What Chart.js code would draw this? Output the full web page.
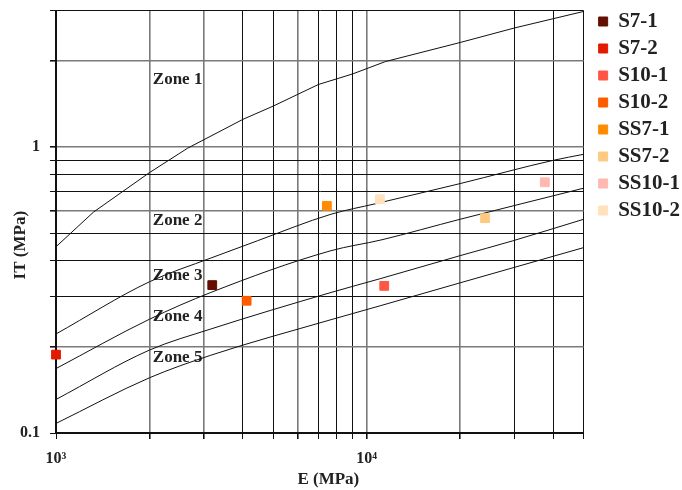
<!DOCTYPE html>
<html>
<head>
<meta charset="utf-8">
<script src="https://cdn.jsdelivr.net/npm/chart.js@4.4.1/dist/chart.umd.min.js"></script>
<style>
  body { margin: 0; background: #fff; }
  #wrap { width: 682px; height: 490px; }
</style>
</head>
<body>
<div id="wrap"><canvas id="myChart"></canvas></div>
<script>
// tick positions
const xTicks = [1000, 2000, 3000, 4000, 5000, 6000, 7000, 8000, 9000, 10000, 20000, 30000, 40000, 50000];
const yTicks = [0.1, 0.2, 0.3, 0.4, 0.5, 0.6, 0.7, 0.8, 0.9, 1, 2, 3];

// measured samples
const sampleNames = ['S7-1', 'S7-2', 'S10-1', 'S10-2', 'SS7-1', 'SS7-2', 'SS10-1', 'SS10-2'];
const sampleE = [3185, 1000, 11400, 4110, 7450, 24070, 37500, 11040];
const sampleIT = [0.329, 0.188, 0.327, 0.290, 0.623, 0.564, 0.753, 0.657];
const sampleColors = ['#650f00', '#e21a00', '#ff5545', '#ff5c00', '#ff8c00', '#ffc981', '#ffb8b0', '#ffe2bb'];

// zone boundaries
const curve1E = [1000, 1320, 2000, 2650, 4000, 5000, 7000, 9000, 11500, 20000, 30000, 50000];
const curve1IT = [0.448, 0.592, 0.814, 0.99, 1.25, 1.39, 1.655, 1.80, 1.99, 2.32, 2.61, 2.98];
const curve2E = [1000, 2000, 3150, 4450, 7680, 10720, 20000, 40000, 50000];
const curve2IT = [0.222, 0.338, 0.409, 0.47, 0.582, 0.634, 0.745, 0.899, 0.943];
const curve3E = [1000, 2000, 3150, 7680, 11120, 20000, 50000];
const curve3IT = [0.168, 0.250, 0.310, 0.434, 0.473, 0.559, 0.718];
const curve4E = [1000, 2000, 3150, 7680, 11120, 20000, 29580, 50000];
const curve4IT = [0.131, 0.195, 0.231, 0.310, 0.347, 0.417, 0.47, 0.559];
const curve5E = [1000, 2000, 3150, 7680, 11120, 20000, 50000];
const curve5IT = [0.108, 0.156, 0.187, 0.249, 0.279, 0.335, 0.445];

// zone labels
const zoneNames = ['Zone 1', 'Zone 2', 'Zone 3', 'Zone 4', 'Zone 5'];
const zoneE = [2050, 2050, 2050, 2050, 2050];
const zoneIT = [1.727, 0.552, 0.355, 0.255, 0.184];

const serif = '"Liberation Serif", "DejaVu Serif", serif';

function toPoints(xs, ys) {
    return xs.map((v, i) => ({ x: v, y: ys[i] }));
}

let datasets = [];
sampleNames.forEach((name, i) => {
    datasets.push({
        label: name,
        data: [{ x: sampleE[i], y: sampleIT[i] }],
        backgroundColor: sampleColors[i],
        borderColor: sampleColors[i],
        pointStyle: 'rect',
        pointRadius: 6.2,
        pointBorderWidth: 1,
        clip: false
    });
});
[[curve1E, curve1IT], [curve2E, curve2IT], [curve3E, curve3IT], [curve4E, curve4IT], [curve5E, curve5IT]].forEach((c, i) => {
    datasets.push({
        label: 'curve' + (i + 1),
        data: toPoints(c[0], c[1]),
        showLine: true,
        borderColor: '#111',
        borderWidth: 1,
        pointRadius: 0,
        // top boundary is a broken line, the others bend smoothly
        cubicInterpolationMode: i === 0 ? 'default' : 'monotone',
        tension: 0
    });
});

const zoneText = {
    id: 'zoneText',
    beforeDatasetsDraw(chart) {
        const { ctx, scales: { x, y } } = chart;
        ctx.save();
        ctx.font = 'bold 17px ' + serif;
        ctx.fillStyle = '#222';
        ctx.textBaseline = 'middle';
        ctx.textAlign = 'left';
        zoneNames.forEach((n, i) => {
            ctx.fillText(n, x.getPixelForValue(zoneE[i]), y.getPixelForValue(zoneIT[i]));
        });
        ctx.restore();
    }
};

const grayX = [2000, 3000, 6000, 10000, 20000];
const grayY = [0.2, 0.6, 1, 2];
const near = (a, b) => Math.abs(a - b) < 1e-9 * Math.max(1, b);
const yLabel = (v) => near(v, 1) ? '1' : (near(v, 0.1) ? '0.1' : '');

let myChart = new Chart(document.getElementById('myChart'), {
    type: 'scatter',
    data: { datasets: datasets },
    plugins: [zoneText],
    options: {
        responsive: true,
        maintainAspectRatio: false,
        animation: false,
        layout: { padding: { left: 0, right: -8, top: 5, bottom: 0 } },
        plugins: {
            tooltip: { enabled: false },
            legend: {
                position: 'right',
                align: 'start',
                labels: {
                    boxWidth: 9,
                    boxHeight: 9,
                    padding: 6,
                    color: '#222',
                    font: { family: serif, size: 21, weight: 'bold' },
                    filter: (item) => sampleNames.includes(item.text)
                }
            }
        },
        scales: {
            x: {
                type: 'logarithmic',
                position: 'bottom',
                min: 1000,
                max: 50000,
                afterBuildTicks: (s) => { s.ticks = xTicks.map(v => ({ value: v })); },
                afterFit: (s) => { s.height = 57; },
                ticks: {
                    autoSkip: false,
                    maxRotation: 0,
                    padding: 10,
                    color: '#222',
                    font: { family: serif, size: 16, weight: 'bold' },
                    callback: (v) => v === 1000 ? '10\u00b3' : (v === 10000 ? '10\u2074' : '')
                },
                grid: {
                    color: (c) => grayX.some(g => near(c.tick.value, g)) ? '#7a7a7a' : '#111',
                    lineWidth: (c) => grayX.some(g => near(c.tick.value, g)) ? 1.6 : 1,
                    tickColor: '#111',
                    tickLength: 6
                },
                border: { color: '#111', width: 2 },
                title: {
                    display: true,
                    text: '    E (MPa)',
                    color: '#222',
                    font: { family: serif, size: 17, weight: 'bold' },
                    padding: { top: 0, bottom: 0 }
                }
            },
            y: {
                type: 'logarithmic',
                position: 'left',
                min: 0.1,
                max: 3,
                afterBuildTicks: (s) => { s.ticks = yTicks.map(v => ({ value: v })); },
                afterFit: (s) => { s.width = 56; },
                ticks: {
                    autoSkip: false,
                    padding: 10,
                    color: '#222',
                    font: (c) => ({ family: serif, size: yLabel(c.tick ? c.tick.value : 0) ? 16 : 1, weight: 'bold' }),
                    callback: yLabel
                },
                grid: {
                    color: (c) => grayY.some(g => near(c.tick.value, g)) ? '#7a7a7a' : '#111',
                    lineWidth: (c) => grayY.some(g => near(c.tick.value, g)) ? 1.6 : 1,
                    tickColor: '#111',
                    tickLength: 6
                },
                border: { color: '#111', width: 2 },
                title: {
                    display: true,
                    text: 'IT (MPa)           ',
                    color: '#222',
                    font: { family: serif, size: 17, weight: 'bold' },
                    padding: { top: 10, bottom: 0 }
                }
            },
            xTop: {
                type: 'linear',
                position: 'top',
                min: 0,
                max: 1,
                afterFit: (s) => { s.height = 4; },
                ticks: { display: false },
                grid: { display: false, drawTicks: false },
                border: { display: false }
            },
            yRight: {
                type: 'linear',
                position: 'right',
                min: 0,
                max: 1,
                afterFit: (s) => { s.width = 9; },
                ticks: { display: false },
                grid: { display: false, drawTicks: false },
                border: { display: false }
            }
        }
    }
});
</script>
</body>
</html>
